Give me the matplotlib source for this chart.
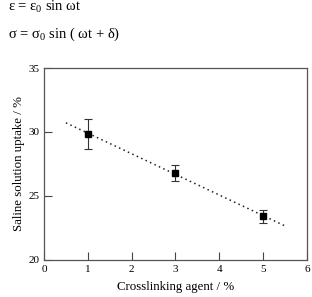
import matplotlib.pyplot as plt
import numpy as np

plt.rcParams['font.family'] = ['Liberation Serif', 'DejaVu Serif']
plt.rcParams['mathtext.fontset'] = 'custom'
plt.rcParams['mathtext.rm'] = 'Liberation Serif'
plt.rcParams['mathtext.it'] = 'Liberation Serif'

# data
crosslinker = [1, 3, 5]
uptake = [29.85, 26.8, 23.4]
uptake_err = [1.15, 0.65, 0.5]

# linear trend line over the data
slope, intercept = np.polyfit(crosslinker, uptake, 1)
x_fit = np.array([0.5, 5.5])
y_fit = slope * x_fit + intercept

fig = plt.figure(figsize=(3.12, 2.97), dpi=100)
ax = fig.add_axes([0.141, 0.125, 0.843, 0.646])

ax.plot(x_fit, y_fit, linestyle=(0, (1, 2.2)), color='#222222', linewidth=1.1)
ax.errorbar(crosslinker, uptake, yerr=uptake_err, fmt='s', color='black',
            markersize=5, ecolor='#333333', elinewidth=0.8, capsize=3, capthick=0.8)

ax.set_xlim(0, 6)
ax.set_ylim(20, 35)
ax.set_xticks(range(0, 7))
ax.set_yticks([20, 25, 30, 35])
ax.tick_params(direction='in', length=6, width=0.8, labelsize=8, color='#444444')
for s in ax.spines.values():
    s.set_color('#555555')
    s.set_linewidth(0.9)

ax.set_xlabel('Crosslinking agent / %', fontsize=9.3, labelpad=5)
ax.set_ylabel('Saline solution uptake / %', fontsize=9.3, labelpad=2)

# equations above the chart
fig.text(0.026, 0.975, 'ε = ε$_\\mathrm{0}$ sin ωt', fontsize=10.5, va='center', ha='left')
fig.text(0.026, 0.883, 'σ = σ$_\\mathrm{0}$ sin ( ωt + δ)', fontsize=10.5, va='center', ha='left')

plt.savefig('out.png', dpi=100)
